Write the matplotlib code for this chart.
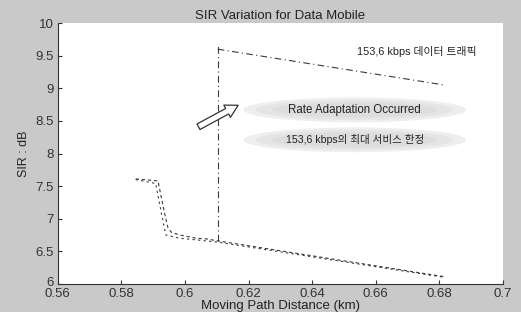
import matplotlib
matplotlib.use("Agg")
import matplotlib.pyplot as plt
from matplotlib.patches import Ellipse, FancyArrowPatch
from matplotlib.transforms import ScaledTranslation

plt.rcParams['font.family'] = ['Liberation Sans', 'Noto Sans CJK KR']

# Data
x_before_a = [0.5845, 0.5915, 0.5936, 0.5947, 0.5958, 0.5984, 0.6036, 0.6068, 0.6103, 0.6817]
y_before_a = [7.61, 7.58, 7.08, 6.85, 6.79, 6.75, 6.70, 6.69, 6.66, 6.11]
x_before_b = [0.5845, 0.5908, 0.5926, 0.5940, 0.5984, 0.6047, 0.6104, 0.6817]
y_before_b = [7.60, 7.54, 7.08, 6.75, 6.70, 6.67, 6.64, 6.10]
x_switch = [0.6103, 0.6103]
y_switch = [6.66, 9.68]
x_after = [0.6103, 0.6817]
y_after = [9.60, 9.05]

title = "SIR Variation for Data Mobile"
xlabel = "Moving Path Distance (km)"
ylabel = "SIR : dB"
xticks = [0.56, 0.58, 0.6, 0.62, 0.64, 0.66, 0.68, 0.7]
xticklabels = ["0.56", "0.58", "0.6", "0.62", "0.64", "0.66", "0.68", "0.7"]
yticks = [6, 6.5, 7, 7.5, 8, 8.5, 9, 9.5, 10]
yticklabels = ["6", "6.5", "7", "7.5", "8", "8.5", "9", "9.5", "10"]
label_traffic = "153,6 kbps 데이터 트래픽"
label_rate = "Rate Adaptation Occurred"
label_service = "153,6 kbps의 최대 서비스 한정"

fig = plt.figure(figsize=(5.21, 3.12), dpi=100, facecolor="#c9c9c9")
ax = fig.add_axes([0.111, 0.090, 0.854, 0.836])
ax.set_facecolor("white")

lc = "#3a3a3a"
ax.plot(x_before_a, y_before_a, color=lc, lw=0.8, ls=(0, (3, 2.5)))
ax.plot(x_before_b, y_before_b, color=lc, lw=0.8, ls=(0, (2, 3)))
ax.plot(x_switch, y_switch, color=lc, lw=0.8, ls=(0, (6, 3, 1, 3)))
ax.plot(x_after, y_after, color=lc, lw=0.8, ls=(0, (6, 3, 1, 3)))

# shaded ellipses behind annotations
for cy in (8.67, 8.21):
    for w, h, c in [(0.070, 0.38, "#eeeeee"), (0.062, 0.31, "#e5e5e5"), (0.052, 0.23, "#dddddd")]:
        ax.add_patch(Ellipse((0.6534, cy), w, h, facecolor=c, edgecolor="none", zorder=1))

ax.text(0.6534, 8.67, label_rate, ha="center", va="center", fontsize=8.3, color="#222222", zorder=3)
ax.text(0.6534, 8.21, label_service, ha="center", va="center", fontsize=7.6, color="#222222", zorder=3)
ax.text(0.6542, 9.57, label_traffic, ha="left", va="center", fontsize=7.8, color="#222222")

arrow = FancyArrowPatch((0.6035, 8.39), (0.6175, 8.76),
                        arrowstyle="simple,head_width=1.0,head_length=0.9,tail_width=0.45",
                        mutation_scale=10, facecolor="white", edgecolor="#333333", lw=0.9, zorder=4)
ax.add_patch(arrow)

ax.set_xlim(0.56, 0.7)
ax.set_ylim(6, 10)
ax.set_xticks(xticks)
ax.set_xticklabels(xticklabels)
ax.set_yticks(yticks)
ax.set_yticklabels(yticklabels)
ax.tick_params(direction="in", length=3, labelsize=9.5, colors="#333333", pad=3)
# lift the "6" label slightly, as in the reference
lab6 = ax.get_yticklabels()[0]
lab6.set_transform(lab6.get_transform() + ScaledTranslation(0, 2 / 72, fig.dpi_scale_trans))
for s in ("top", "right"):
    ax.spines[s].set_visible(False)
for s in ("left", "bottom"):
    ax.spines[s].set_color("#333333")
    ax.spines[s].set_linewidth(0.8)

ax.set_title(title, fontsize=9.5, color="#222222", pad=3)
ax.set_xlabel(xlabel, fontsize=9.5, color="#222222", labelpad=0)
ax.set_ylabel(ylabel, fontsize=9, color="#222222", labelpad=4)

fig.savefig("out.png", dpi=100, facecolor=fig.get_facecolor())
